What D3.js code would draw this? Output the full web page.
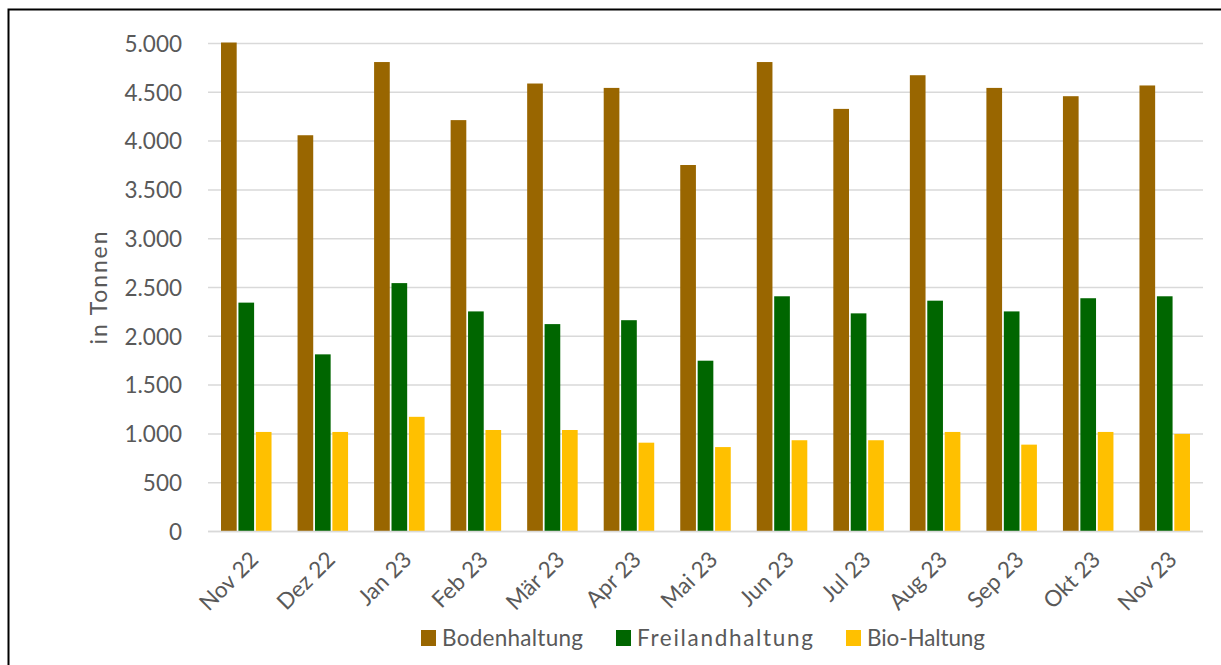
<!DOCTYPE html>
<html>
<head>
<meta charset="utf-8">
<script src="https://cdn.jsdelivr.net/npm/d3@7"></script>
<style>
  html, body { margin: 0; padding: 0; background: #fff; }
  svg { display: block; font-family: Lato, "Open Sans", sans-serif; }
</style>
</head>
<body>
<svg id="chart" width="1221" height="665"></svg>
<script>
const categories = ["Nov 22","Dez 22","Jan 23","Feb 23","Mär 23","Apr 23","Mai 23","Jun 23","Jul 23","Aug 23","Sep 23","Okt 23","Nov 23"];
const seriesNames = ["Bodenhaltung","Freilandhaltung","Bio-Haltung"];
const bodenhaltung   = [5010, 4060, 4810, 4215, 4590, 4545, 3755, 4810, 4330, 4675, 4545, 4460, 4570];
const freilandhaltung = [2345, 1815, 2545, 2255, 2125, 2165, 1750, 2410, 2235, 2365, 2255, 2390, 2410];
const bioHaltung     = [1020, 1020, 1175, 1040, 1040, 910, 865, 935, 935, 1020, 890, 1020, 1000];
const yTicks = [0, 500, 1000, 1500, 2000, 2500, 3000, 3500, 4000, 4500, 5000];
const colors = ["#996600", "#006600", "#FFC000"];

(function () {
const seriesValues = [bodenhaltung, freilandhaltung, bioHaltung];
const svg = d3.select("#chart");

// frame
svg.append("rect").attr("x", 8.5).attr("y", 9.5).attr("width", 1400).attr("height", 800)
  .attr("fill", "none").attr("stroke", "#000").attr("stroke-width", 2);

const pLeft = 208, pRight = 1203, pTop = 43.5, pBottom = 531.5;
const x = d3.scaleBand().domain(categories).range([pLeft, pRight]).paddingInner(0.34).paddingOuter(0.17);
const xs = d3.scaleBand().domain(seriesNames).range([0, x.bandwidth()]).paddingInner(0.1);
const y = d3.scaleLinear().domain([0, 5000]).range([pBottom, pTop]);

// gridlines
svg.append("g").selectAll("line").data(yTicks).join("line")
  .attr("x1", pLeft).attr("x2", pRight)
  .attr("y1", d => y(d)).attr("y2", d => y(d))
  .attr("stroke", "#D9D9D9").attr("stroke-width", 1.5);

// y axis labels
const fmt = d3.formatLocale({decimal: ",", thousands: ".", grouping: [3], currency: ["", "€"]}).format(",.0f");
const yAxis = d3.axisLeft(y).tickValues(yTicks).tickFormat(fmt).tickSize(0).tickPadding(0);
const yg = svg.append("g").attr("transform", `translate(${pLeft - 26},0)`).call(yAxis);
yg.select(".domain").remove();
yg.selectAll("text").attr("fill", "#595959").attr("font-size", 22.5).attr("font-family", "Lato, sans-serif").attr("dy", "0.35em");

// y title
svg.append("text").attr("transform", "translate(107,288) rotate(-90)")
  .attr("text-anchor", "middle").attr("fill", "#595959").attr("font-size", 23)
  .attr("textLength", 113).attr("lengthAdjust", "spacing")
  .text("in Tonnen");

// bars
const groups = svg.append("g").selectAll("g").data(categories).join("g")
  .attr("transform", d => `translate(${x(d)},0)`);
groups.selectAll("rect").data((c, i) => seriesNames.map((s, k) => ({s, k, v: seriesValues[k][i]})))
  .join("rect")
  .attr("x", d => xs(d.s))
  .attr("width", xs.bandwidth())
  .attr("y", d => y(d.v))
  .attr("height", d => y(0) - y(d.v))
  .attr("fill", d => colors[d.k]);

// x axis line
svg.append("line").attr("x1", pLeft).attr("x2", pRight).attr("y1", y(0)).attr("y2", y(0))
  .attr("stroke", "#D9D9D9").attr("stroke-width", 1.5);

// x labels
const xAxis = d3.axisBottom(x).tickSize(0).tickPadding(0);
const xg = svg.append("g").attr("transform", `translate(0,${pBottom})`).call(xAxis);
xg.select(".domain").remove();
xg.selectAll("text")
  .attr("fill", "#595959").attr("font-size", 22.5).attr("font-family", "Lato, sans-serif")
  .attr("text-anchor", "end")
  .attr("dy", "0.35em")
  .attr("transform", "translate(8,24) rotate(-45)");

// legend
const legendItems = [
  {name: seriesNames[0], x: 421, w: 141},
  {name: seriesNames[1], x: 616, w: 176},
  {name: seriesNames[2], x: 846, w: 118}
];
const lg = svg.append("g").selectAll("g").data(legendItems).join("g")
  .attr("transform", d => `translate(${d.x},630)`);
lg.append("rect").attr("width", 15).attr("height", 16).attr("fill", (d, i) => colors[i]);
lg.append("text").attr("x", 21).attr("y", 8).attr("dy", "0.35em")
  .attr("fill", "#595959").attr("font-size", 22.5)
  .attr("textLength", d => d.w).attr("lengthAdjust", "spacing")
  .text(d => d.name);
})();
</script>
</body>
</html>
